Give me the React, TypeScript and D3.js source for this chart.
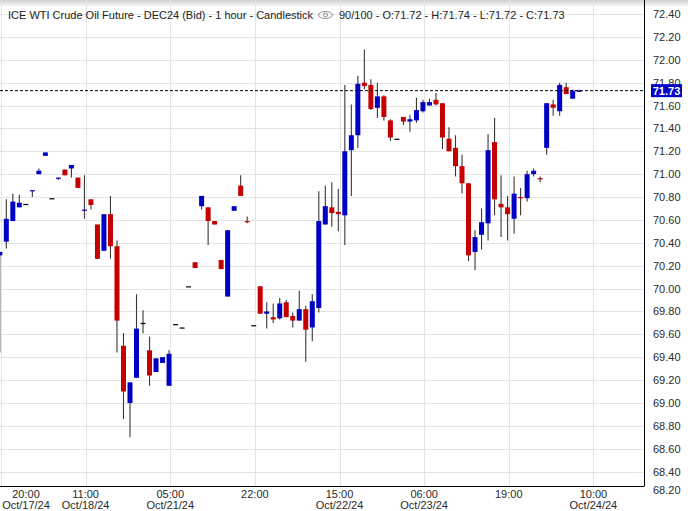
import React from "react";
import * as d3 from "d3";

// ---- data ----
const opens = [70.29,70.41,70.59,70.71,70.74,70.85,71.00,71.16,70.79,70.96,71.04,71.05,70.97,70.68,70.78,70.56,70.33,70.65,70.37,69.50,69.00,69.22,69.70,69.46,69.27,69.35,69.15,69.69,69.66,70.02,70.23,70.72,70.71,70.59,70.25,69.93,70.68,70.90,70.59,69.68,70.02,69.78,69.75,69.74,69.88,69.76,69.72,69.82,69.66,69.83,70.56,70.71,70.67,70.64,71.21,71.34,71.80,71.78,71.58,71.68,71.47,71.31,71.50,71.46,71.47,71.55,71.60,71.65,71.62,71.31,71.23,71.07,70.92,70.32,70.47,70.57,71.28,70.74,70.71,70.61,70.80,70.79,71.00,70.965,71.23,71.61,71.55,71.76,71.66,71.72];
const highs = [70.32,70.78,70.83,70.82,70.74,70.86,71.05,71.19,70.79,70.97,71.04,71.08,70.97,70.99,70.78,70.56,70.65,70.81,70.42,69.61,69.18,69.95,69.81,69.58,69.39,69.40,69.46,69.69,69.66,70.02,70.23,70.81,70.71,70.59,70.25,70.51,70.72,70.99,70.63,69.68,70.02,69.88,69.87,69.92,69.90,69.79,69.98,69.85,69.95,70.85,70.90,70.93,70.87,71.78,71.61,71.86,72.09,71.83,71.80,71.69,71.48,71.31,71.50,71.52,71.67,71.65,71.66,71.71,71.62,71.41,71.34,71.17,70.92,70.51,70.70,71.35,71.49,70.99,70.81,70.98,70.88,71.03,71.05,70.98,71.62,71.65,71.80,71.80,71.74,71.74];
const lows = [69.44,70.35,70.59,70.71,70.74,70.80,71.00,71.16,70.79,70.95,70.99,70.97,70.88,70.61,70.69,70.26,70.33,70.26,69.44,68.86,68.70,69.22,69.61,69.15,69.27,69.35,69.15,69.69,69.66,70.02,70.18,70.69,70.38,70.56,70.17,69.93,70.68,70.81,70.57,69.68,69.78,69.65,69.70,69.73,69.75,69.66,69.72,69.36,69.54,69.79,70.56,70.54,70.50,70.38,70.81,71.23,71.74,71.56,71.49,71.47,71.29,71.31,71.43,71.37,71.45,71.54,71.60,71.60,71.22,71.20,70.98,70.83,70.24,70.16,70.34,70.42,70.64,70.45,70.42,70.48,70.64,70.76,70.98,70.93,71.17,71.51,71.51,71.70,71.66,71.72];
const closes = [70.32,70.61,70.76,70.75,70.74,70.86,71.03,71.19,70.79,70.97,70.99,71.08,70.88,70.69,70.73,70.26,70.65,70.37,69.72,69.10,69.18,69.65,69.70,69.24,69.39,69.40,69.43,69.69,69.66,70.02,70.18,70.81,70.59,70.56,70.17,70.51,70.72,70.81,70.58,69.68,69.78,69.80,69.73,69.87,69.75,69.72,69.82,69.64,69.89,70.59,70.72,70.66,70.65,71.20,71.34,71.79,71.77,71.57,71.68,71.50,71.32,71.31,71.46,71.48,71.56,71.63,71.63,71.61,71.32,71.20,71.07,70.92,70.29,70.45,70.58,71.21,70.78,70.71,70.65,70.83,70.79,71.00,71.03,70.955,71.62,71.58,71.78,71.70,71.73,71.73];

const xTickBars = [0, 13, 26, 39, 52, 65, 78, 91];
const xTickTimes = ["20:00", "11:00", "05:00", "22:00", "15:00", "06:00", "19:00", "10:00"];
const xTickDates = ["Oct/17/24", "Oct/18/24", "Oct/21/24", "", "Oct/22/24", "Oct/23/24", "", "Oct/24/24"];
const yTicks = [68.2,68.4,68.6,68.8,69.0,69.2,69.4,69.6,69.8,70.0,70.2,70.4,70.6,70.8,71.0,71.2,71.4,71.6,71.8,72.0,72.2,72.4];
const lastPrice = 71.73;
const titleMain = "ICE WTI Crude Oil Future - DEC24 (Bid) - 1 hour - Candlestick";
const titleInfo = "90/100 - O:71.72 - H:71.74 - L:71.72 - C:71.73";

const W = 688, H = 511;
const plotRight = 644.5, plotBottom = 486;
const BLUE = "#0000c4", RED = "#c40000", WICK = "#383838";
const FONT = "Arial, 'Liberation Sans', sans-serif";

export default function App() {
  const x = d3.scaleLinear().domain([0, 89]).range([-0.2, 89 * 6.51 - 0.2]);
  const y = d3.scaleLinear().domain([68.2, 72.4]).range([14 + 4.2 * 114.4, 14]);
  const bw = 5;
  return (
    <svg width={W} height={H} style={{ position: "absolute", left: 0, top: 0, background: "#fff" }} fontFamily={FONT}>
      <defs>
        <linearGradient id="topg" x1="0" y1="0" x2="0" y2="1">
          <stop offset="0" stopColor="#cfcfcf" />
          <stop offset="1" stopColor="#ffffff" />
        </linearGradient>
        <clipPath id="plot">
          <rect x={0} y={0} width={plotRight} height={plotBottom} />
        </clipPath>
      </defs>
      <rect x={0} y={0} width={W} height={H} fill="#fff" />
      <rect x={0} y={0} width={W} height={7} fill="url(#topg)" />
      {/* grid */}
      <g stroke="#e4e4e4" strokeWidth={1}>
        {yTicks.filter((t) => y(t) < plotBottom).map((t) => (
          <line key={"h" + t} x1={0} x2={plotRight} y1={Math.round(y(t)) + 0.5} y2={Math.round(y(t)) + 0.5} />
        ))}
        {xTickBars.map((b) => (
          <line key={"v" + b} x1={Math.round(x(b) + 1.2) + 0.5} x2={Math.round(x(b) + 1.2) + 0.5} y1={0} y2={plotBottom} />
        ))}
      </g>
      {/* candles */}
      <g clipPath="url(#plot)">
        {opens.map((o, i) => {
          const c = closes[i];
          const cx = x(i);
          const top = y(Math.max(o, c));
          const bot = y(Math.min(o, c));
          const col = c > o ? BLUE : c < o ? RED : "#000";
          const hgt = Math.max(1.2, bot - top);
          return (
            <g key={i}>
              {highs[i] > lows[i] && (
                <line x1={cx} x2={cx} y1={y(highs[i])} y2={y(lows[i])} stroke={WICK} strokeWidth={1.1} />
              )}
              <rect x={cx - bw / 2} y={top} width={bw} height={hgt} fill={col} />
            </g>
          );
        })}
      </g>
      {/* last price dashed line */}
      <line x1={0} x2={plotRight} y1={y(lastPrice)} y2={y(lastPrice)} stroke="#000" strokeWidth={1} strokeDasharray="3,2" />
      {/* borders */}
      <line x1={plotRight} x2={plotRight} y1={0} y2={plotBottom} stroke="#000" strokeWidth={1} />
      <line x1={0} x2={plotRight} y1={plotBottom + 0.5} y2={plotBottom + 0.5} stroke="#000" strokeWidth={1} />
      {/* y labels */}
      <g fontSize={11} fill="#2a2a2a">
        {yTicks.map((t) => (
          <text key={"yl" + t} x={653} y={Math.min(y(t), 490) + 4}>{t.toFixed(2)}</text>
        ))}
      </g>
      <rect x={651} y={y(lastPrice) - 6.5} width={31} height={13} fill="#0000c8" />
      <text x={666.5} y={y(lastPrice) + 4} fontSize={11} fontWeight="bold" fill="#fff" textAnchor="middle">{lastPrice.toFixed(2)}</text>
      {/* x labels */}
      <g fontSize={11} fill="#2a2a2a" textAnchor="middle">
        {xTickBars.map((b, i) => {
          const gx = i === 0 ? 26 : x(b) + 1.2;
          return (
            <g key={"xl" + b}>
              <text x={gx} y={498}>{xTickTimes[i]}</text>
              {xTickDates[i] && <text x={gx} y={508.5}>{xTickDates[i]}</text>}
            </g>
          );
        })}
      </g>
      {/* title */}
      <text x={8} y={19} fontSize={11} fill="#222">{titleMain}</text>
      <g stroke="#777" fill="none" strokeWidth={0.8}>
        <ellipse cx={325.5} cy={15} rx={7} ry={3.5} />
        <circle cx={325.5} cy={15} r={2} />
      </g>
      <text x={339} y={19} fontSize={11} fill="#222">{titleInfo}</text>
    </svg>
  );
}
